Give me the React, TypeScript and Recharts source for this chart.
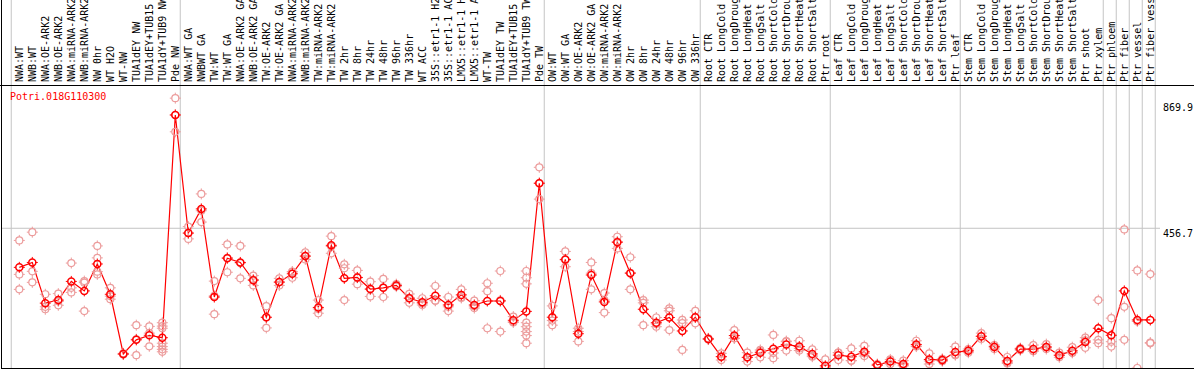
import { ComposedChart, Line, Scatter, XAxis, YAxis, ReferenceLine } from 'recharts';

const categories = [
  'NWA:WT', 'NWB:WT', 'NWA:OE-ARK2', 'NWB:OE-ARK2', 'NWA:miRNA-ARK2', 'NWB:miRNA-ARK2', 'NW 0hr', 'WT H2O',
  'WT-NW', 'TUA1dEY NW', 'TUA1dEY+TUB15 NW', 'TUA1dY+TUB9 NW', 'Pde NW',
  'NWA:WT GA', 'NWBWT GA', 'TW:WT', 'TW:WT GA', 'NWA:OE-ARK2 GA', 'NWB:OE-ARK2 GA', 'TW:OE-ARK2', 'TW:OE-ARK2 GA',
  'NWA:miRNA-ARK2 GA', 'NWB:miRNA-ARK2 GA', 'TW:miRNA-ARK2', 'TW:miRNA-ARK2 GA', 'TW 2hr', 'TW 8hr', 'TW 24hr',
  'TW 48hr', 'TW 96hr', 'TW 336hr', 'WT ACC', '35S::etr1-1 H2O', '35S::etr1-1 ACC', 'LMX5::etr1-1 H2O',
  'LMX5::etr1-1 ACC', 'WT-TW', 'TUA1dEY TW', 'TUA1dEY+TUB15 TW', 'TUA1dY+TUB9 TW', 'Pde TW',
  'OW:WT', 'OW:WT GA', 'OW:OE-ARK2', 'OW:OE-ARK2 GA', 'OW:miRNA-ARK2', 'OW:miRNA-ARK2 GA', 'OW 2hr', 'OW 8hr',
  'OW 24hr', 'OW 48hr', 'OW 96hr', 'OW 336hr',
  'Root CTR', 'Root LongCold', 'Root LongDrought', 'Root LongHeat', 'Root LongSalt', 'Root ShortCold',
  'Root ShortDrought', 'Root ShortHeat', 'Root ShortSalt', 'Ptr root',
  'Leaf CTR', 'Leaf LongCold', 'Leaf LongDrought', 'Leaf LongHeat', 'Leaf LongSalt', 'Leaf ShortCold',
  'Leaf ShortDrought', 'Leaf ShortHeat', 'Leaf ShortSalt', 'Ptr leaf',
  'Stem CTR', 'Stem LongCold', 'Stem LongDrought', 'Stem LongHeat', 'Stem LongSalt', 'Stem ShortCold',
  'Stem ShortDrought', 'Stem ShortHeat', 'Stem ShortSalt', 'Ptr shoot',
  'Ptr xylem', 'Ptr phloem', 'Ptr fiber', 'Ptr vessel', 'Ptr fiber vessel',
];

// mean expression per sample
const means = [
  329, 345, 212, 222, 283, 252, 340, 241, 46, 92, 107, 99, 827,
  441, 520, 232, 359, 345, 287, 166, 281, 308, 366, 198, 401, 293, 296, 258,
  262, 270, 228, 215, 236, 206, 239, 206, 219, 219, 156, 185, 604,
  166, 355, 112, 304, 216, 411, 310, 192, 148, 165, 121, 166,
  95, 37, 106, 35, 50, 63, 77, 70, 46, 7,
  42, 37, 53, 10, 21, 13, 77, 28, 26, 52,
  56, 104, 69, 23, 62, 62, 69, 42, 56, 85,
  130, 107, 252, 157, 157,
];

// individual replicates per sample
const replicates = [
  [417, 306, 257], [444, 316, 280], [241, 200, 192], [243, 205, 218], [343, 262, 247], [284, 279, 186],
  [399, 360, 306, 315], [262, 235, 225], [48, 44, 45], [140, 42, 94], [136, 71, 114],
  [148, 137, 130, 81, 70, 61, 53], [882, 772, 827],
  [462, 422, 441], [569, 477, 514], [284, 176, 236], [404, 313, 360], [399, 293, 343], [302, 270, 289],
  [202, 131, 165], [293, 270, 280], [315, 295, 314], [378, 355, 365], [222, 179, 193], [431, 375, 397],
  [339, 326, 222], [319, 274, 295], [282, 234, 258], [291, 232, 263], [274, 266, 270], [242, 213, 229],
  [228, 206, 211], [268, 220, 220], [232, 186, 200], [257, 231, 229], [220, 196, 202], [277, 251, 130],
  [317, 119, 221], [168, 151, 149], [317, 295, 275, 148, 135, 119, 106, 81], [656, 552, 604],
  [203, 140, 155], [381, 331, 353], [130, 87, 119], [345, 257, 310], [245, 181, 222], [429, 391, 413],
  [362, 257, 311], [222, 213, 140], [165, 135, 144], [195, 187, 124], [157, 59, 147], [187, 146, 165],
  [97, 93, 95], [48, 26, 37], [124, 97, 97], [50, 21, 34], [59, 35, 55], [108, 32, 49], [86, 57, 88],
  [89, 57, 64], [61, 37, 40], [28, 0, 0],
  [50, 26, 50], [64, 24, 24], [72, 39, 48], [13, 8, 9], [28, 13, 22], [24, 8, 7], [89, 70, 72],
  [48, 13, 23], [30, 22, 26], [70, 42, 44],
  [62, 50, 56], [114, 95, 103], [75, 62, 70], [36, 15, 18], [65, 58, 63], [75, 55, 56], [78, 62, 67],
  [50, 35, 41], [68, 50, 50], [99, 66, 90],
  [222, 92, 81], [163, 86, 70], [453, 200, 92], [319, 0, 152], [307, 83, 81],
];

// first sample index of each group (plus the end)
const groupStarts = [0, 13, 41, 53, 63, 73, 84, 85, 86, 87, 88];
const yTicks = [0, 456.7, 869.9];
const geneName = 'Potri.018G110300';

const FONT = "'DejaVu Sans Mono', monospace";
const meanData = means.map((v, i) => ({ x: i, mean: v }));
const repData = replicates.flatMap((vals, i) => vals.map((v) => ({ x: i, rep: v })));

function Glyph({ cx, cy, color, sw }: any) {
  if (cx == null || cy == null) return null;
  return (
    <g>
      <circle cx={cx} cy={cy} r={3.5} fill="none" stroke={color} strokeWidth={sw} />
      <line x1={cx} x2={cx} y1={cy - 5.5} y2={cy - 3.5} stroke={color} strokeWidth={1} />
      <line x1={cx} x2={cx} y1={cy + 3.5} y2={cy + 5.5} stroke={color} strokeWidth={1} />
      <line x1={cx - 5.5} x2={cx - 3.5} y1={cy} y2={cy} stroke={color} strokeWidth={1} />
      <line x1={cx + 3.5} x2={cx + 5.5} y1={cy} y2={cy} stroke={color} strokeWidth={1} />
    </g>
  );
}

function CategoryTick({ x, payload }: any) {
  return (
    <text transform={`translate(${x},82) rotate(-90)`} dy="0.35em" fontFamily={FONT} fontSize={10} fill="#000">
      {categories[payload.value]}
    </text>
  );
}

function ValueTick({ y, payload }: any) {
  const v = payload.value;
  return (
    <text x={1161} y={v === 0 ? y - 2 : y + 9} fontFamily={FONT} fontSize={10} fill="#000">
      {v === 0 ? '0' : v.toFixed(1)}
    </text>
  );
}

export default function App() {
  return (
    <div style={{ position: 'fixed', left: 0, top: 0, width: 1194, height: 370, background: '#fff' }}>
      <div style={{ position: 'absolute', left: 1, top: 0, width: 1193, height: 368, borderLeft: '1px solid #000', borderBottom: '1px solid #000' }}>
        <ComposedChart width={1192} height={368} data={meanData} margin={{ top: 0, right: 0, bottom: 0, left: 0 }}>
          <XAxis
            dataKey="x"
            type="number"
            orientation="top"
            height={85}
            domain={[-1.331, 87.746]}
            ticks={categories.map((_, i) => i)}
            interval={0}
            tick={<CategoryTick />}
            tickLine={false}
            axisLine={false}
            allowDataOverflow
          />
          <YAxis
            orientation="right"
            width={34}
            domain={[0, 925]}
            ticks={yTicks}
            tick={<ValueTick />}
            tickLine={false}
            axisLine={false}
            allowDataOverflow
          />
          <ReferenceLine y={456.7} stroke="#c4c4c4" strokeWidth={1} />
          {groupStarts.map((b) => (
            <ReferenceLine
              key={b}
              segment={[{ x: b - 0.62, y: 0 }, { x: b - 0.62, y: 1203 }]}
              stroke="#c4c4c4"
              strokeWidth={1}
              ifOverflow="visible"
            />
          ))}
          <Scatter
            data={repData}
            dataKey="rep"
            isAnimationActive={false}
            shape={(p: any) => <Glyph cx={p.cx} cy={p.cy} color="#ec9c9c" sw={1.2} />}
          />
          <Line
            dataKey="mean"
            stroke="#ff0000"
            strokeWidth={1.2}
            isAnimationActive={false}
            dot={(p: any) => <Glyph key={p.index} cx={p.cx} cy={p.cy} color="#ff0000" sw={1.5} />}
            activeDot={false}
          />
        </ComposedChart>
      </div>
      <div style={{ position: 'absolute', left: 0, top: 85, width: 1194, height: 1, background: '#000' }} />
      <div style={{ position: 'absolute', left: 10, top: 91, color: '#ff0000', fontFamily: FONT, fontSize: 10, lineHeight: '12px' }}>
        {geneName}
      </div>
    </div>
  );
}
